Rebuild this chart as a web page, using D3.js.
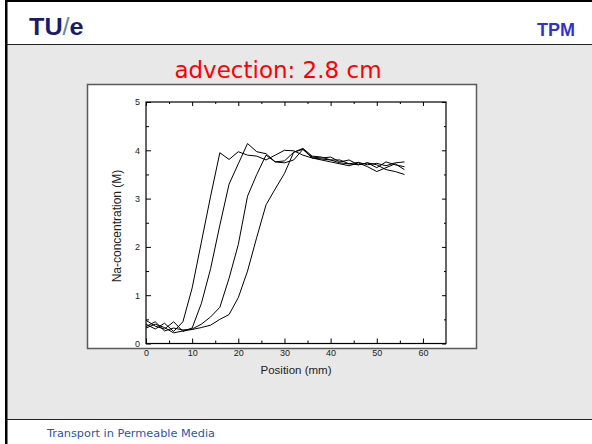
<!DOCTYPE html>
<html>
<head>
<meta charset="utf-8">
<script src="https://cdn.jsdelivr.net/npm/d3@7"></script>
<style>
  html, body { margin: 0; padding: 0; background: #ffffff; }
  svg { display: block; }
</style>
</head>
<body>
<svg id="slide" width="592" height="444"></svg>
<script>
// Sodium concentration profiles along the sample, four successive scans
const positions = [0, 2, 4, 6, 8, 10, 12, 14, 16, 18, 20, 22, 24, 26, 28,
                   30, 32, 34, 36, 38, 40, 42, 44, 46, 48, 50, 52, 54, 56];
const naScan1 = [0.40, 0.30, 0.42, 0.25, 0.45, 1.15, 2.10, 3.05, 3.95, 3.81, 3.97, 3.90, 3.88, 3.80, 3.90,
                 4.00, 3.99, 3.90, 3.84, 3.82, 3.80, 3.74, 3.72, 3.75, 3.70, 3.73, 3.68, 3.74, 3.76];
const naScan2 = [0.48, 0.36, 0.30, 0.45, 0.25, 0.32, 0.83, 1.55, 2.45, 3.30, 3.72, 4.14, 3.97, 3.93, 3.76,
                 3.74, 3.80, 4.02, 3.86, 3.84, 3.86, 3.76, 3.80, 3.70, 3.74, 3.64, 3.76, 3.70, 3.66];
const naScan3 = [0.35, 0.45, 0.26, 0.32, 0.28, 0.30, 0.40, 0.55, 0.75, 1.35, 2.05, 3.05, 3.50, 3.90, 3.76,
                 3.78, 3.96, 4.02, 3.84, 3.80, 3.76, 3.72, 3.68, 3.74, 3.66, 3.56, 3.64, 3.72, 3.60];
const naScan4 = [0.32, 0.40, 0.33, 0.22, 0.26, 0.29, 0.33, 0.38, 0.50, 0.60, 0.95, 1.50, 2.20, 2.87, 3.20,
                 3.52, 3.96, 4.04, 3.88, 3.86, 3.80, 3.80, 3.72, 3.70, 3.74, 3.70, 3.60, 3.56, 3.50];
const xTicks = [0, 10, 20, 30, 40, 50, 60];
const yTicks = [0, 1, 2, 3, 4, 5];

const titleText = "advection: 2.8 cm";
const xLabel = "Position (mm)";
const yLabel = "Na-concentration (M)";
const footerText = "Transport in Permeable Media";

const svg = d3.select("#slide");

// ---- slide frame ----
svg.append("rect").attr("x", 0).attr("y", 0).attr("width", 592).attr("height", 444).attr("fill", "#ffffff");
svg.append("rect").attr("x", 7).attr("y", 45).attr("width", 585).attr("height", 374).attr("fill", "#e8e8e8");
svg.append("line").attr("x1", 7).attr("x2", 592).attr("y1", 44.5).attr("y2", 44.5)
   .attr("stroke", "#222").attr("stroke-width", 1.2);
svg.append("line").attr("x1", 7).attr("x2", 592).attr("y1", 419.5).attr("y2", 419.5)
   .attr("stroke", "#222").attr("stroke-width", 1.2);
svg.append("rect").attr("x", 5).attr("y", 0).attr("width", 2.5).attr("height", 444).attr("fill", "#000");
svg.append("rect").attr("x", 5).attr("y", 0).attr("width", 587).attr("height", 2).attr("fill", "#000");

// logo
const logo = svg.append("g").attr("transform", "translate(29,35) scale(1.05,1)");
const logoText = logo.append("text")
  .attr("font-family", "Liberation Sans, Arial, sans-serif")
  .attr("font-weight", "bold").attr("font-size", 24);
logoText.append("tspan").attr("fill", "#1c1c66").text("TU");
logoText.append("tspan").attr("fill", "#5e8c9c").attr("font-weight", "normal").text("/");
logoText.append("tspan").attr("fill", "#1c1c66").text("e");

svg.append("text").attr("x", 575).attr("y", 36).attr("text-anchor", "end")
  .attr("font-family", "Liberation Sans, Arial, sans-serif").attr("font-weight", "bold")
  .attr("font-size", 18).attr("fill", "#3333cc").text("TPM");

// title
svg.append("text").attr("x", 278).attr("y", 78).attr("text-anchor", "middle")
  .attr("font-family", "DejaVu Sans, Verdana, sans-serif").attr("font-size", 23)
  .attr("fill", "#ff0000").text(titleText);

// footer
svg.append("text").attr("x", 47).attr("y", 437)
  .attr("font-family", "DejaVu Sans, Verdana, sans-serif").attr("font-size", 11.3)
  .attr("fill", "#2a55b0").text(footerText);

// ---- chart panel ----
svg.append("rect").attr("x", 87.5).attr("y", 84.5).attr("width", 389).attr("height", 264)
  .attr("fill", "#ffffff").attr("stroke", "#5a5a5a").attr("stroke-width", 1.5);

const plot = { left: 146, right: 446, top: 102, bottom: 343.5 };
const x = d3.scaleLinear().domain([0, 65]).range([plot.left, plot.right]);
const y = d3.scaleLinear().domain([0, 5]).range([plot.bottom, plot.top]);

const g = svg.append("g");
const fontAxis = "Liberation Sans, Arial, sans-serif";

// inward ticks on all four sides
function styleAxis(sel) {
  sel.select(".domain").remove();
  sel.selectAll(".tick line").attr("stroke", "#000").attr("stroke-width", 1);
  sel.selectAll(".tick text").attr("font-family", fontAxis).attr("font-size", 9).attr("fill", "#222");
}
const xMinor = d3.range(5, 65, 10);
const yMinor = d3.range(0.5, 5, 1);

g.append("g").attr("transform", `translate(0,${plot.bottom})`)
  .call(d3.axisBottom(x).tickValues(xTicks).tickSize(-5).tickPadding(6).tickFormat(d3.format("d")))
  .call(styleAxis);
g.append("g").attr("transform", `translate(0,${plot.bottom})`)
  .call(d3.axisBottom(x).tickValues(xMinor).tickSize(-3).tickFormat(""))
  .call(styleAxis);
g.append("g").attr("transform", `translate(0,${plot.top})`)
  .call(d3.axisTop(x).tickValues(xTicks).tickSize(-4).tickFormat(""))
  .call(styleAxis);
g.append("g").attr("transform", `translate(0,${plot.top})`)
  .call(d3.axisTop(x).tickValues(xMinor).tickSize(-2).tickFormat(""))
  .call(styleAxis);

g.append("g").attr("transform", `translate(${plot.left},0)`)
  .call(d3.axisLeft(y).tickValues(yTicks).tickSize(-5).tickPadding(6).tickFormat(d3.format("d")))
  .call(styleAxis);
g.append("g").attr("transform", `translate(${plot.left},0)`)
  .call(d3.axisLeft(y).tickValues(yMinor).tickSize(-3).tickFormat(""))
  .call(styleAxis);
g.append("g").attr("transform", `translate(${plot.right},0)`)
  .call(d3.axisRight(y).tickValues(yTicks).tickSize(-4).tickFormat(""))
  .call(styleAxis);
g.append("g").attr("transform", `translate(${plot.right},0)`)
  .call(d3.axisRight(y).tickValues(yMinor).tickSize(-2).tickFormat(""))
  .call(styleAxis);

// frame
g.append("rect").attr("x", plot.left).attr("y", plot.top)
  .attr("width", plot.right - plot.left).attr("height", plot.bottom - plot.top)
  .attr("fill", "none").attr("stroke", "#000").attr("stroke-width", 1.2);

// axis titles
g.append("text").attr("x", (x(0) + x(65)) / 2).attr("y", 374).attr("text-anchor", "middle")
  .attr("font-family", fontAxis).attr("font-size", 11.5).attr("fill", "#222").text(xLabel);
g.append("text").attr("transform", `translate(121,226) rotate(-90)`)
  .attr("text-anchor", "middle").attr("font-family", fontAxis).attr("font-size", 12)
  .attr("fill", "#222").text(yLabel);

// profiles
const line = d3.line().x((d, i) => x(positions[i])).y(d => y(d));
[naScan1, naScan2, naScan3, naScan4].forEach(series => {
  g.append("path").datum(series).attr("d", line)
    .attr("fill", "none").attr("stroke", "#000").attr("stroke-width", 1)
    .attr("stroke-linejoin", "miter");
});
</script>
</body>
</html>
